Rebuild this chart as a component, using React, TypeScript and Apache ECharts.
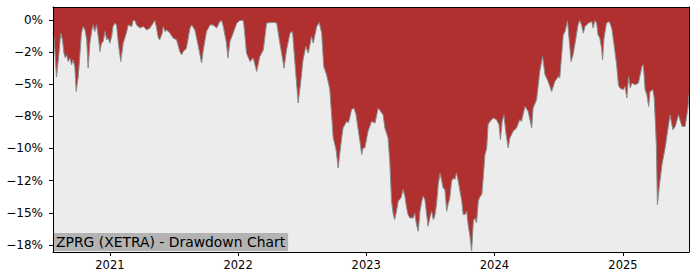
import { useEffect, useRef } from "react";
import * as echarts from "echarts";

const dates: string[] = [
  "2020-07-23","2020-07-26","2020-08-02","2020-08-10","2020-08-14","2020-08-19","2020-08-23","2020-08-27","2020-08-31","2020-09-04",
  "2020-09-09","2020-09-14","2020-09-18","2020-09-23","2020-09-27","2020-10-03","2020-10-08","2020-10-12","2020-10-17","2020-10-22",
  "2020-10-27","2020-10-31","2020-11-05","2020-11-10","2020-11-14","2020-11-19","2020-11-24","2020-11-29","2020-12-04","2020-12-08",
  "2020-12-13","2020-12-18","2020-12-23","2020-12-27","2021-01-01","2021-01-06","2021-01-10","2021-01-15","2021-01-20","2021-01-25",
  "2021-02-01","2021-02-08","2021-02-18","2021-02-22","2021-03-04","2021-03-08","2021-03-13","2021-03-18","2021-03-27","2021-04-06",
  "2021-04-16","2021-04-25","2021-05-04","2021-05-09","2021-05-14","2021-05-19","2021-05-23","2021-05-30","2021-06-02","2021-06-07",
  "2021-06-11","2021-06-21","2021-06-30","2021-07-10","2021-07-19","2021-07-24","2021-07-29","2021-08-07","2021-08-17","2021-08-22",
  "2021-08-31","2021-09-10","2021-09-19","2021-09-24","2021-10-03","2021-10-13","2021-10-22","2021-11-01","2021-11-10","2021-11-15",
  "2021-11-20","2021-11-29","2021-12-03","2021-12-09","2021-12-18","2021-12-28","2022-01-06","2022-01-16","2022-01-20","2022-01-25",
  "2022-02-04","2022-02-13","2022-02-23","2022-03-04","2022-03-14","2022-03-23","2022-04-02","2022-04-16","2022-04-21","2022-04-30",
  "2022-05-09","2022-05-12","2022-05-19","2022-05-29","2022-06-05","2022-06-12","2022-06-21","2022-06-28","2022-07-05","2022-07-13",
  "2022-07-20","2022-07-29","2022-08-03","2022-08-13","2022-08-20","2022-08-27","2022-09-02","2022-09-10","2022-09-19","2022-09-29",
  "2022-10-07","2022-10-13","2022-10-18","2022-10-23","2022-10-27","2022-11-01","2022-11-06","2022-11-11","2022-11-15","2022-11-20",
  "2022-11-27","2022-12-03","2022-12-09","2022-12-14","2022-12-19","2022-12-23","2022-12-28","2023-01-06","2023-01-16","2023-01-26",
  "2023-02-04","2023-02-14","2023-02-18","2023-02-23","2023-03-04","2023-03-09","2023-03-14","2023-03-19","2023-03-23","2023-03-28",
  "2023-04-02","2023-04-10","2023-04-16","2023-04-21","2023-04-26","2023-04-30","2023-05-05","2023-05-15","2023-05-19","2023-05-24",
  "2023-05-29","2023-06-03","2023-06-08","2023-06-12","2023-06-17","2023-06-22","2023-06-26","2023-07-01","2023-07-06","2023-07-11",
  "2023-07-15","2023-07-20","2023-07-25","2023-07-30","2023-08-04","2023-08-08","2023-08-13","2023-08-18","2023-08-22","2023-08-27",
  "2023-09-01","2023-09-06","2023-09-10","2023-09-15","2023-09-20","2023-09-25","2023-09-30","2023-10-04","2023-10-09","2023-10-14",
  "2023-10-18","2023-10-23","2023-10-28","2023-11-02","2023-11-06","2023-11-11","2023-11-16","2023-11-21","2023-11-26","2023-11-30",
  "2023-12-05","2023-12-10","2023-12-14","2023-12-19","2023-12-29","2024-01-07","2024-01-14","2024-01-18","2024-01-23","2024-01-28",
  "2024-02-02","2024-02-09","2024-02-14","2024-02-23","2024-03-04","2024-03-13","2024-03-18","2024-03-28","2024-04-06","2024-04-16",
  "2024-04-20","2024-04-30","2024-05-09","2024-05-17","2024-05-24","2024-06-02","2024-06-12","2024-06-21","2024-07-01","2024-07-05",
  "2024-07-15","2024-07-20","2024-07-27","2024-08-03","2024-08-06","2024-08-12","2024-08-20","2024-08-26","2024-08-31","2024-09-05",
  "2024-09-10","2024-09-15","2024-09-24","2024-10-04","2024-10-08","2024-10-13","2024-10-18","2024-10-22","2024-10-27","2024-11-01",
  "2024-11-04","2024-11-08","2024-11-15","2024-11-23","2024-11-30","2024-12-04","2024-12-09","2024-12-14","2024-12-19","2024-12-23",
  "2025-01-02","2025-01-07","2025-01-12","2025-01-17","2025-01-22","2025-01-26","2025-02-05","2025-02-14","2025-02-24","2025-02-28",
  "2025-03-05","2025-03-10","2025-03-15","2025-03-19","2025-03-27","2025-03-31","2025-04-06","2025-04-09","2025-04-15","2025-04-22",
  "2025-05-01","2025-05-08","2025-05-15","2025-05-23","2025-05-30","2025-06-08","2025-06-18","2025-06-27","2025-07-02","2025-07-06",
  "2025-07-08",
];

const drawdown: number[] = [
  -1.0, -1.42, -4.45, -2.33, -1.03, -1.55, -2.56, -2.95, -2.72, -3.24,
  -2.97, -3.49, -3.11, -3.63, -5.57, -4.4, -2.56, -1.01, -0.52, -0.78,
  -1.55, -3.75, -1.81, -0.91, -0.39, -0.91, -0.39, -1.3, -2.46, -1.81,
  -1.68, -0.91, -1.55, -1.42, -1.81, -1.3, -0.52, -0.26, -0.39, -1.81,
  -3.24, -1.81, -0.91, -0.39, -0.52, -0.05, -0.05, -0.39, -0.64, -0.52,
  -0.78, -0.64, -0.26, -0.05, -0.64, -1.42, -1.55, -1.03, -0.52, -0.91,
  -0.78, -1.03, -1.42, -1.55, -2.46, -2.72, -2.46, -2.2, -0.64, -0.39,
  -0.78, -2.07, -3.36, -2.33, -0.91, -0.39, -0.39, -0.64, -0.13, -0.05,
  -0.52, -1.81, -2.97, -1.68, -1.03, -0.26, -0.05, -0.05, -1.03, -2.59,
  -3.24, -2.97, -4.01, -2.85, -2.33, -0.26, -0.21, -0.21, -0.26, -1.81,
  -3.24, -3.75, -2.33, -1.03, -0.91, -3.36, -6.47, -4.91, -3.11, -2.07,
  -2.59, -1.3, -1.81, -0.52, -0.21, -1.03, -3.63, -4.27, -5.36, -9.18,
  -10.09, -11.51, -10.33, -9.18, -8.39, -8.15, -7.9, -8.0, -7.61, -6.99,
  -6.86, -7.38, -8.54, -9.45, -10.48, -9.96, -9.96, -8.67, -7.9, -8.02,
  -6.86, -7.24, -7.38, -8.41, -9.18, -11.0, -14.11, -15.14, -15.53, -14.88,
  -14.11, -13.84, -13.2, -13.72, -14.62, -15.14, -15.4, -15.4, -15.01, -15.92,
  -16.44, -14.88, -14.11, -13.72, -13.98, -15.14, -16.05, -15.4, -14.88, -15.53,
  -15.27, -14.36, -12.81, -11.9, -12.55, -13.07, -13.2, -14.88, -14.36, -13.84,
  -12.55, -12.29, -12.42, -11.9, -12.55, -13.33, -14.11, -15.14, -15.14, -14.88,
  -15.92, -16.77, -17.97, -15.66, -15.4, -15.78, -14.11, -13.72, -13.59, -12.29,
  -10.48, -9.96, -8.15, -7.9, -7.63, -7.76, -8.15, -9.32, -7.9, -7.38,
  -8.67, -9.96, -9.18, -8.67, -8.41, -7.76, -7.9, -6.73, -7.12, -8.41,
  -6.86, -6.21, -4.01, -2.85, -4.27, -4.79, -5.57, -4.79, -4.4, -4.53,
  -1.16, -0.91, -0.08, -2.2, -3.24, -2.72, -1.42, -0.39, -0.05, -0.39,
  -1.03, -0.52, -0.26, -0.13, -0.64, -0.05, -0.26, -1.16, -1.42, -2.2,
  -3.11, -1.42, -0.26, -0.13, -0.64, -1.42, -2.46, -3.49, -5.05, -5.3,
  -5.43, -5.18, -6.08, -4.4, -5.3, -4.91, -5.05, -4.91, -3.63, -3.49,
  -5.43, -5.82, -6.73, -5.57, -5.43, -6.08, -9.7, -14.36, -12.81, -11.26,
  -9.96, -8.67, -7.38, -8.54, -8.28, -7.38, -8.28, -8.28, -7.38, -6.6,
  -5.82,
];

const yTickValues: number[] = [0, -2.5, -5, -7.5, -10, -12.5, -15, -17.5];
const yTickLabels: string[] = ["0%", "\u22122%", "\u22125%", "\u22128%", "\u221210%", "\u221212%", "\u221215%", "\u221218%"];
const xTickDates: string[] = ["2021-01-01", "2022-01-01", "2023-01-01", "2024-01-01", "2025-01-01"];
const xTickLabels: string[] = ["2021", "2022", "2023", "2024", "2025"];
const chartTitle = "ZPRG (XETRA) - Drawdown Chart";

const xStart = "2020-07-23";
const xEnd = "2025-07-08";
const yMin = -18.05;
const yMax = 1.0;

const toTime = (s: string) => {
  const [y, m, d] = s.split("-").map(Number);
  return new Date(y, m - 1, d).getTime();
};

const FONT = "DejaVu Sans";

export default function App() {
  const ref = useRef<HTMLDivElement>(null);
  useEffect(() => {
    if (!ref.current) return;
    const chart = echarts.init(ref.current, undefined, { renderer: "svg" });
    const xTickTimes = xTickDates.map(toTime);
    const seriesData = dates.map((d, i) => [toTime(d), drawdown[i]]);
    const labelFor = (v: number, vals: number[], labels: string[]) => {
      let best = 0;
      for (let i = 1; i < vals.length; i++) {
        if (Math.abs(vals[i] - v) < Math.abs(vals[best] - v)) best = i;
      }
      return labels[best];
    };
    const frameLine = { show: true, onZero: false, lineStyle: { color: "#000", width: 1 } };
    chart.setOption({
      animation: false,
      backgroundColor: "#ffffff",
      title: {
        text: chartTitle,
        left: 53,
        top: 233,
        padding: [1, 3, 1, 3],
        backgroundColor: "#b3b3b3",
        itemGap: 0,
        textStyle: {
          fontFamily: FONT,
          fontSize: 13.9,
          fontWeight: "normal",
          color: "#000000",
          lineHeight: 16,
        },
      },
      grid: {
        left: 53,
        right: 11,
        top: 7,
        bottom: 28,
        show: true,
        backgroundColor: "#ececec",
        borderWidth: 0,
        outerBoundsMode: "none",
      },
      xAxis: [
        {
          type: "value",
          min: toTime(xStart),
          max: toTime(xEnd),
          z: 10,
          axisLine: frameLine,
          axisTick: { show: true, length: 4, customValues: xTickTimes, lineStyle: { color: "#000", width: 1 } },
          axisLabel: {
            show: true,
            customValues: xTickTimes,
            formatter: (v: number) => labelFor(v, xTickTimes, xTickLabels),
            fontFamily: FONT,
            fontSize: 11.5,
            color: "#000",
            margin: 7,
          },
          splitLine: { show: false },
        },
        {
          type: "value",
          position: "top",
          min: toTime(xStart),
          max: toTime(xEnd),
          z: 10,
          axisLine: frameLine,
          axisTick: { show: false },
          axisLabel: { show: false },
          splitLine: { show: false },
        },
      ],
      yAxis: [
        {
          type: "value",
          min: yMin,
          max: yMax,
          z: 10,
          axisLine: frameLine,
          axisTick: { show: true, length: 4, customValues: yTickValues, lineStyle: { color: "#000", width: 1 } },
          axisLabel: {
            show: true,
            customValues: yTickValues,
            formatter: (v: number) => labelFor(v, yTickValues, yTickLabels),
            fontFamily: FONT,
            fontSize: 12,
            color: "#000",
            margin: 10,
          },
          splitLine: { show: false },
        },
        {
          type: "value",
          position: "right",
          min: yMin,
          max: yMax,
          z: 10,
          axisLine: frameLine,
          axisTick: { show: false },
          axisLabel: { show: false },
          splitLine: { show: false },
        },
      ],
      series: [
        {
          type: "line",
          xAxisIndex: 0,
          yAxisIndex: 0,
          data: seriesData,
          showSymbol: false,
          symbol: "none",
          lineStyle: { color: "#8c8c8c", width: 1 },
          areaStyle: { color: "#b03030", opacity: 1, origin: "end" },
          z: 2,
        },
      ],
    });
    return () => chart.dispose();
  }, []);
  return <div ref={ref} style={{ width: 700, height: 280, position: "absolute", left: 0, top: 0 }} />;
}
